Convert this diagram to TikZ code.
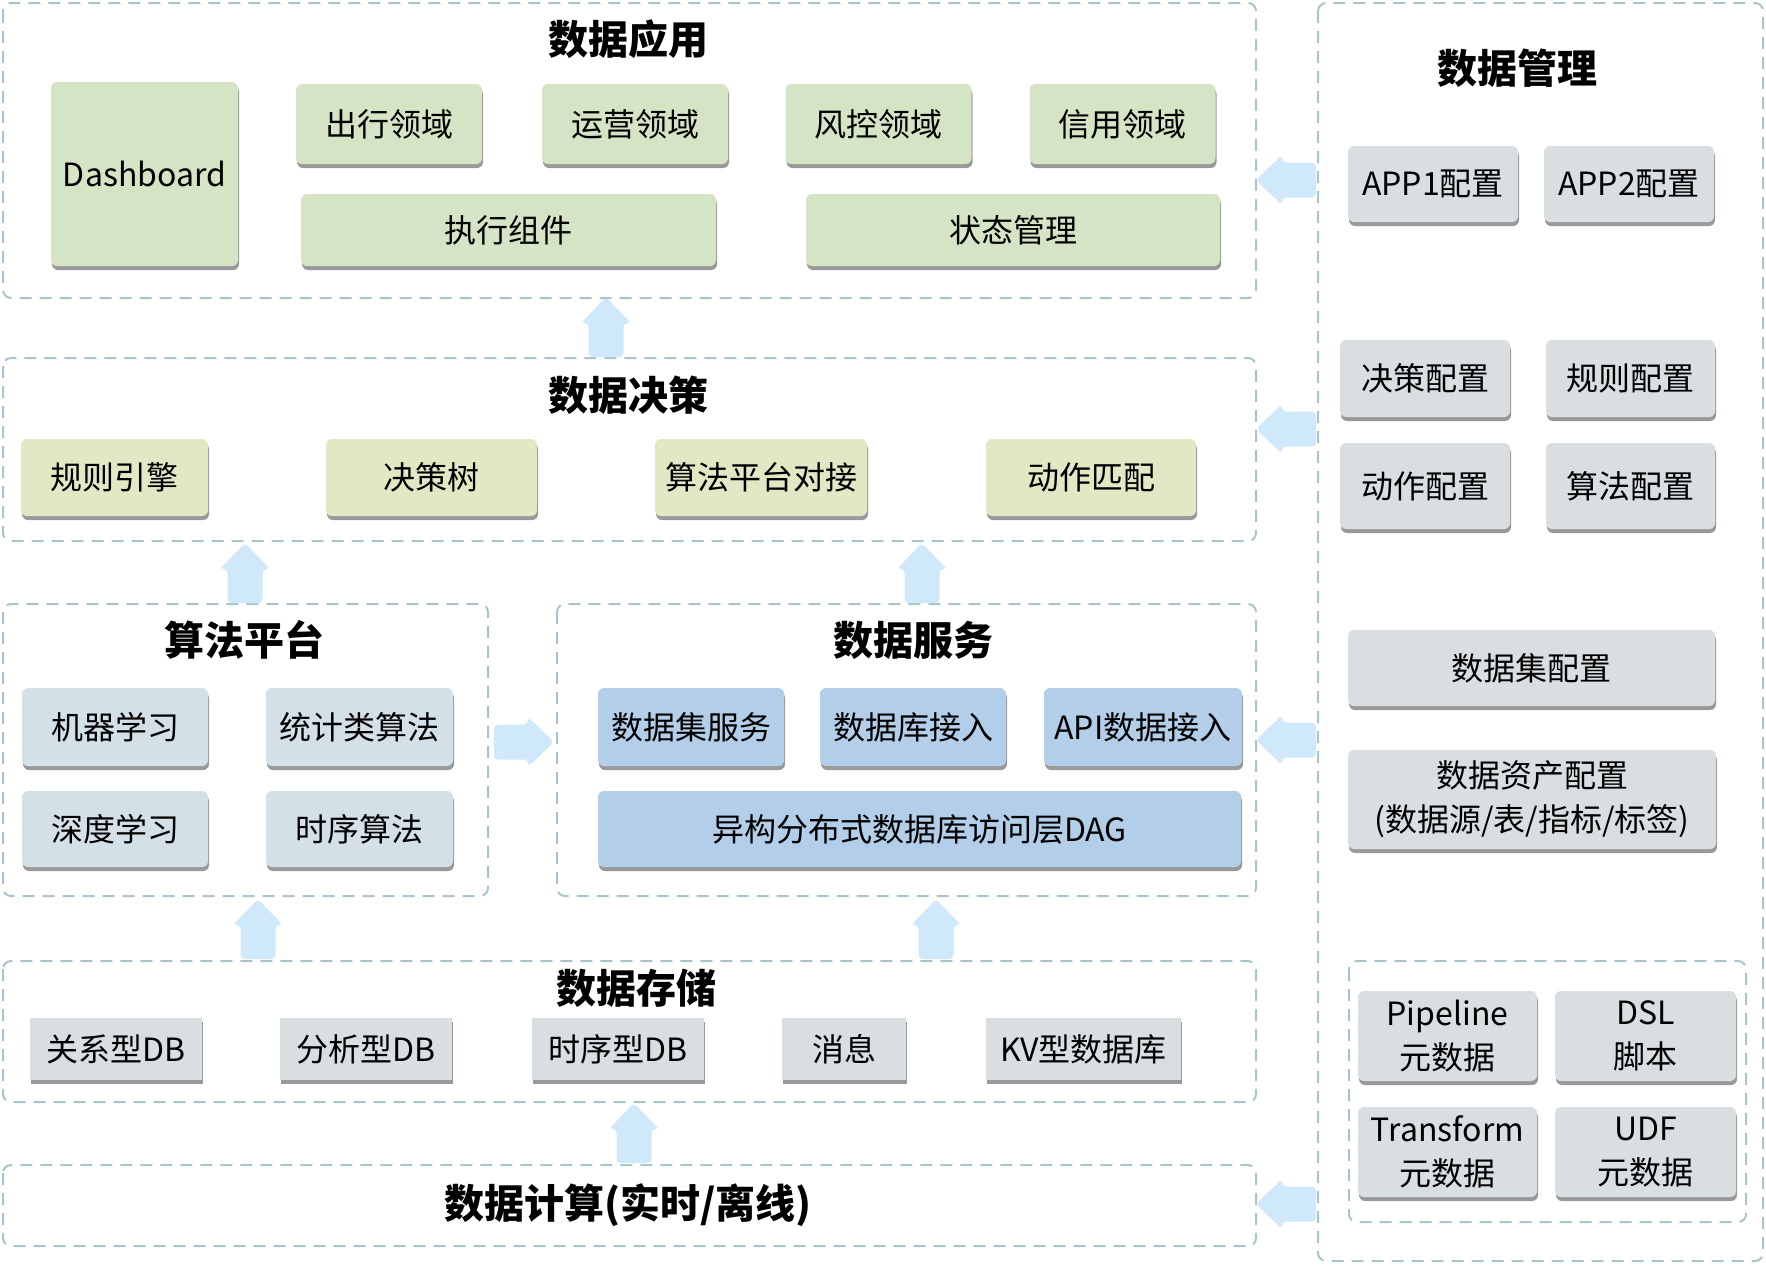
\documentclass[tikz,border=0pt]{standalone}
\usepackage{fontspec}
\setmainfont{Noto Sans CJK SC}
\usepackage{tikz}
\usetikzlibrary{shadows}
\definecolor{dashc}{HTML}{A9C4CC}
\definecolor{appc}{HTML}{D5E4C4}
\definecolor{decc}{HTML}{E2E8C4}
\definecolor{algc}{HTML}{D3E0E8}
\definecolor{svcc}{HTML}{B3CEE8}
\definecolor{mgmc}{HTML}{D9DEE1}
\definecolor{arwc}{HTML}{CFE8FA}
\tikzstyle{layer}=[draw=dashc, line width=2pt, dash pattern=on 12pt off 8pt, rounded corners=8pt]
\tikzstyle{box}=[rounded corners=6pt, inner sep=2pt, align=center, font=\fontsize{32}{44}\selectfont,
  drop shadow={shadow xshift=1pt, shadow yshift=-4pt, fill=black!50, opacity=.8}]
\tikzstyle{appbox}=[box, fill=appc]
\tikzstyle{decbox}=[box, fill=decc]
\tikzstyle{algbox}=[box, fill=algc]
\tikzstyle{svcbox}=[box, fill=svcc]
\tikzstyle{mgmbox}=[box, fill=mgmc]
\tikzstyle{dbbox}=[box, fill=mgmc, rounded corners=0pt]
\tikzstyle{title}=[font=\fontsize{40}{46}\selectfont\bfseries]
\tikzset{
  uparw/.pic={\fill[arwc, rounded corners=4pt] (-17.5,0) -- (-17.5,-34) -- (-25,-34) -- (0,-60)
    -- (25,-34) -- (17.5,-34) -- (17.5,0) -- cycle;}
}
\begin{document}
\begin{tikzpicture}[x=1pt, y=-1pt]
\useasboundingbox (0,0) rectangle (1766,1264);
	% layers
	\draw[layer] (3,3) rectangle (1256,298);
	\draw[layer] (3,358) rectangle (1256,541);
	\draw[layer] (3,604) rectangle (488,896);
	\draw[layer] (557,604) rectangle (1256,896);
	\draw[layer] (3,961) rectangle (1256,1102);
	\draw[layer] (3,1165) rectangle (1256,1246);
	\draw[layer] (1318,3) rectangle (1763,1261);
	\draw[layer] (1349,961) rectangle (1746,1222);

	% 数据应用
	\node[title] (tapp) at (628,39) {数据应用};
	\node[appbox, minimum width=187, minimum height=184] (dash) at (144.5,174) {Dashboard};
	\node[appbox, minimum width=186, minimum height=80] (chuxing) at (389,124) {出行领域};
	\node[appbox, minimum width=186, minimum height=80] (yunying) at (635,124) {运营领域};
	\node[appbox, minimum width=186, minimum height=80] (fengkong) at (878.5,124) {风控领域};
	\node[appbox, minimum width=186, minimum height=80] (xinyong) at (1122.5,124) {信用领域};
	\node[appbox, minimum width=415, minimum height=72] (zhixing) at (508.5,230) {执行组件};
	\node[appbox, minimum width=414, minimum height=72] (zhuangtai) at (1013,230) {状态管理};

	% 数据决策
	\node[title] (tdec) at (628,395) {数据决策};
	\node[decbox, minimum width=187, minimum height=77] (guize) at (114.5,477.5) {规则引擎};
	\node[decbox, minimum width=211, minimum height=77] (jueceshu) at (431.5,477.5) {决策树};
	\node[decbox, minimum width=212, minimum height=77] (duijie) at (761,477.5) {算法平台对接};
	\node[decbox, minimum width=210, minimum height=77] (pipei) at (1091,477.5) {动作匹配};

	% 算法平台
	\node[title] (talg) at (244,640) {算法平台};
	\node[algbox, minimum width=186, minimum height=78] (jiqi) at (115,727) {机器学习};
	\node[algbox, minimum width=187, minimum height=78] (tongji) at (359.5,727) {统计类算法};
	\node[algbox, minimum width=186, minimum height=76] (shendu) at (115,829) {深度学习};
	\node[algbox, minimum width=187, minimum height=76] (shixu) at (359.5,829) {时序算法};

	% 数据服务
	\node[title] (tsvc) at (913,640) {数据服务};
	\node[svcbox, minimum width=186, minimum height=78] (jifuwu) at (691,727) {数据集服务};
	\node[svcbox, minimum width=186, minimum height=78] (kujieru) at (913,727) {数据库接入};
	\node[svcbox, minimum width=198, minimum height=78] (api) at (1143,727) {API数据接入};
	\node[svcbox, minimum width=643, minimum height=76] (dag) at (919.5,829) {异构分布式数据库访问层DAG};

	% 数据存储
	\node[title] (tdb) at (636,988) {数据存储};
	\node[dbbox, minimum width=172, minimum height=62] (guanxi) at (116,1049) {关系型DB};
	\node[dbbox, minimum width=172, minimum height=62] (fenxi) at (366,1049) {分析型DB};
	\node[dbbox, minimum width=172, minimum height=62] (shixudb) at (618,1049) {时序型DB};
	\node[dbbox, minimum width=124, minimum height=62] (xiaoxi) at (844,1049) {消息};
	\node[dbbox, minimum width=195, minimum height=62] (kv) at (1083.5,1049) {KV型数据库};

	% 数据计算
	\node[title] (tcalc) at (628,1205) {数据计算(实时/离线)};

	% 数据管理
	\node[title] (tmgm) at (1517,68) {数据管理};
	\node[mgmbox, minimum width=170, minimum height=76] (app1) at (1433,184) {APP1配置};
	\node[mgmbox, minimum width=170, minimum height=76] (app2) at (1629,184) {APP2配置};
	\node[mgmbox, minimum width=170, minimum height=77] (juecepz) at (1425,378.5) {决策配置};
	\node[mgmbox, minimum width=169, minimum height=77] (guizepz) at (1630.5,378.5) {规则配置};
	\node[mgmbox, minimum width=170, minimum height=86] (dongzuopz) at (1425,486) {动作配置};
	\node[mgmbox, minimum width=169, minimum height=86] (suanfapz) at (1630.5,486) {算法配置};
	\node[mgmbox, minimum width=367, minimum height=76] (jipz) at (1531.5,668) {数据集配置};
	\node[mgmbox, minimum width=368, minimum height=99] (zichan) at (1532,799.5) {数据资产配置\\(数据源/表/指标/标签)};
	\node[mgmbox, minimum width=179, minimum height=90] (pipeline) at (1447.5,1036) {Pipeline\\元数据};
	\node[mgmbox, minimum width=181, minimum height=90] (dsl) at (1645.5,1036) {DSL\\脚本};
	\node[mgmbox, minimum width=179, minimum height=90] (transform) at (1447.5,1152) {Transform\\元数据};
	\node[mgmbox, minimum width=181, minimum height=90] (udf) at (1645.5,1152) {UDF\\元数据};

	% arrows
	\pic at (606,357) {uparw};
	\pic at (245,603) {uparw};
	\pic at (922,603) {uparw};
	\pic at (258,959) {uparw};
	\pic at (936,959) {uparw};
	\pic at (634,1163) {uparw};
	\pic[rotate=-90] at (494,742) {uparw};
	\pic[rotate=90] at (1316,180) {uparw};
	\pic[rotate=90] at (1316,429) {uparw};
	\pic[rotate=90] at (1316,740) {uparw};
	\pic[rotate=90] at (1316,1204) {uparw};
\end{tikzpicture}
\end{document}
